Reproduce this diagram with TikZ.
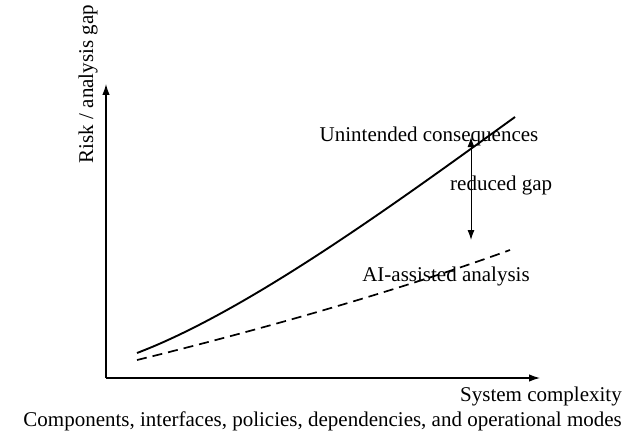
\documentclass[tikz,border=0pt]{standalone}
\usepackage{fontspec}
\setmainfont{Liberation Serif}
\usetikzlibrary{arrows.meta}
\begin{document}
\begin{tikzpicture}[x=1pt,y=-1pt,
  lbl/.style={inner sep=0pt, font=\fontsize{21}{25}\selectfont},
  axisline/.style={line width=1.2pt, -{Latex[length=11pt,width=7.5pt]}},
  riskcurve/.style={line width=1.9pt},
  aicurve/.style={line width=1.7pt, dash pattern=on 10pt off 6pt},
  gaparrow/.style={line width=1pt, {Latex[length=10pt,width=7pt]}-{Latex[length=10pt,width=7pt]}}]
\useasboundingbox (0,0) rectangle (623,433);
\coordinate (O) at (106,378);
\coordinate (ytip) at (106,84);
\coordinate (xtip) at (540,378);
\draw[axisline] (O) -- (ytip);
\draw[axisline] (O) -- (xtip);
\coordinate (r0) at (137,353);
\coordinate (r1) at (515,117);
\coordinate (a0) at (137,360);
\coordinate (a1) at (510,250);
\draw[riskcurve] (r0) .. controls (250,310) and (400,200) .. (r1);
\draw[aicurve] (a0) .. controls (260,330) and (400,290) .. (a1);
\coordinate (gaptop) at (471,137);
\coordinate (gapbot) at (471,240);
\draw[gaparrow] (gaptop) -- (gapbot);
\node[lbl, anchor=base] (unint) at (429,141) {Unintended consequences};
\node[lbl, anchor=base west] (gap) at (450,190) {reduced gap};
\node[lbl, anchor=base] (ai) at (446,281) {AI-assisted analysis};
\node[lbl, anchor=base east] (xlab) at (622,401.5) {System complexity};
\node[lbl, anchor=base east] (xsub) at (622,426.5) {Components, interfaces, policies, dependencies, and operational modes};
\node[lbl, anchor=base, rotate=90] (ylab) at (93,84) {Risk / analysis gap};
\end{tikzpicture}
\end{document}
